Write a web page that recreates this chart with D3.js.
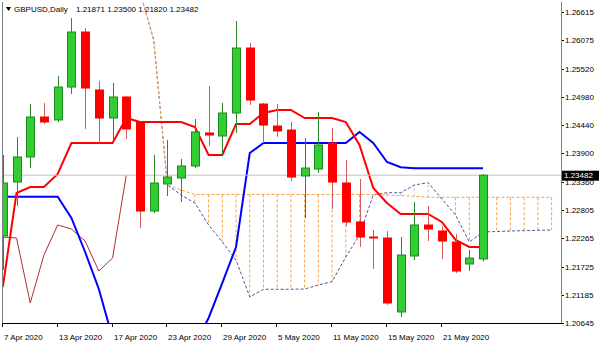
<!DOCTYPE html>
<html>
<head>
<meta charset="utf-8">
<script src="https://cdn.jsdelivr.net/npm/d3@7/dist/d3.min.js"></script>
<style>
  body { margin: 0; background: #fff; }
  svg { display: block; font-family: "Liberation Sans", Arial, sans-serif; }
</style>
</head>
<body>
<div id="chart"></div>
<script>
// GBPUSD daily, 7 Apr 2020 -> 26 May 2020 (36 bars)
const opens  = [1.22313, 1.23351, 1.23832, 1.24601, 1.24544, 1.25178, 1.26236, 1.25121, 1.24582, 1.24986,
                1.24505, 1.22793, 1.23313, 1.23428, 1.23659, 1.24294, 1.24236, 1.24678, 1.25928, 1.24851,
                1.24428, 1.24351, 1.23467, 1.23601, 1.24101, 1.23332, 1.22582, 1.22293, 1.22274, 1.20851,
                1.21928, 1.22524, 1.22409, 1.22197, 1.21774, 1.21871];
const highs  = [1.23870, 1.24217, 1.24851, 1.24871, 1.25390, 1.26505, 1.26313, 1.25294, 1.25255, 1.25005,
                1.24524, 1.23870, 1.24159, 1.23794, 1.24563, 1.25198, 1.24871, 1.26448, 1.26025, 1.24871,
                1.24851, 1.24505, 1.24197, 1.24698, 1.24390, 1.23774, 1.23409, 1.22428, 1.22409, 1.22293,
                1.22967, 1.22890, 1.22505, 1.22351, 1.22043, 1.23500];
const lows   = [1.21659, 1.22890, 1.23620, 1.24467, 1.24505, 1.25044, 1.24371, 1.24101, 1.24101, 1.24178,
                1.22466, 1.22755, 1.23082, 1.22967, 1.23620, 1.24044, 1.23870, 1.24294, 1.24832, 1.24101,
                1.24217, 1.23370, 1.22659, 1.23524, 1.22832, 1.22505, 1.22101, 1.21678, 1.20986, 1.20755,
                1.21851, 1.22216, 1.21870, 1.21601, 1.21639, 1.21820];
const closes = [1.23332, 1.23832, 1.24601, 1.24505, 1.25178, 1.26236, 1.25159, 1.24582, 1.24986, 1.24371,
                1.22793, 1.23332, 1.23447, 1.23659, 1.24313, 1.24255, 1.24678, 1.25928, 1.24928, 1.24447,
                1.24332, 1.23447, 1.23620, 1.24063, 1.23351, 1.22582, 1.22293, 1.22274, 1.21024, 1.21947,
                1.22524, 1.22447, 1.22216, 1.21639, 1.21889, 1.23482];

// Ichimoku lines
const tenkan = [1.21332, 1.23140, 1.23255, 1.23255, 1.23505, 1.24101, 1.24101, 1.24101, 1.24101, 1.24582,
                1.24505, 1.24505, 1.24505, 1.24505, 1.24409, 1.23870, 1.23870, 1.24467, 1.24467, 1.24678,
                1.24736, 1.24736, 1.24582, 1.24582, 1.24582, 1.24505, 1.24063, 1.23236, 1.22947, 1.22736,
                1.22736, 1.22736, 1.22582, 1.22236, 1.22101, 1.22101];
const kijun  = [1.23068, 1.23068, 1.23068, 1.23068, 1.23068, 1.22659, 1.22005, 1.21293, 1.20351, 1.20216,
                1.20216, 1.20216, 1.20216, 1.20216, 1.20216, 1.20736, 1.21409, 1.22101, 1.23909, 1.24101,
                1.24101, 1.24101, 1.24101, 1.24101, 1.24101, 1.24101, 1.24313, 1.24101, 1.23736, 1.23634,
                1.23615, 1.23615, 1.23615, 1.23615, 1.23615, 1.23615];
// senkou spans, shifted 26 bars forward (41 slots, null = above the visible range)
const spanA  = [null, null, null, null, null, null, null, null, null, 1.28006,
                1.27005, 1.26082, 1.23294, 1.23197, 1.23111, 1.23111, 1.23111, 1.23111, 1.23111, 1.23111,
                1.23111, 1.23111, 1.23111, 1.23111, 1.23111, 1.23111, 1.23111, 1.23111, 1.23101, 1.23092,
                1.23076, 1.23057, 1.23057, 1.23057, 1.23057, 1.23057, 1.23057, 1.23057, 1.23057, 1.23057,
                1.23057];
const spanB  = [null, null, null, null, null, null, null, null, null, 1.28006,
                1.27005, 1.26082, 1.23294, 1.23101, 1.22947, 1.22524, 1.22197, 1.21851, 1.21139, 1.21288,
                1.21288, 1.21288, 1.21293, 1.21370, 1.21434, 1.21909, 1.22332, 1.23101, 1.23145, 1.23145,
                1.23294, 1.23338, 1.23024, 1.22717, 1.22197, 1.22390, 1.22399, 1.22409, 1.22415, 1.22422,
                1.22428];
const chikouShift = 26;

const tickBars   = [0, 4, 8, 12, 16, 20, 24, 28, 32];
const tickLabels = ['7 Apr 2020', '13 Apr 2020', '17 Apr 2020', '23 Apr 2020', '29 Apr 2020',
                    '5 May 2020', '11 May 2020', '15 May 2020', '21 May 2020'];
const priceTicks = [1.26615, 1.26075, 1.25520, 1.24980, 1.24440, 1.23900, 1.23360,
                    1.22805, 1.22265, 1.21725, 1.21185, 1.20645];
const lastPrice = 1.23482;
const title = 'GBPUSD,Daily';
const titleValues = '1.21871 1.23500 1.21820 1.23482';

// layout
const width = 600;
const height = 343;
const plot = { left: 3, right: 561, top: 2, bottom: 323 };
const bodyW = 9;

const x = d3.scaleLinear().domain([0, 40]).range([2.8, 551.6]);
const y = d3.scaleLinear().domain([1.20645, 1.26615]).range([322.7, 12.3]);

const svg = d3.select('#chart').append('svg')
    .attr('width', width)
    .attr('height', height);

svg.append('defs').append('clipPath').attr('id', 'clip')
  .append('rect')
    .attr('x', plot.left).attr('y', plot.top)
    .attr('width', plot.right - plot.left).attr('height', plot.bottom - plot.top);

const g = svg.append('g').attr('clip-path', 'url(#clip)');

// kumo hatch : one dotted vertical per bar
const cloudBars = d3.range(spanA.length).filter(i => spanA[i] != null && spanB[i] != null);
g.selectAll('.kumo').data(cloudBars).enter().append('line')
    .attr('class', 'kumo')
    .attr('x1', i => x(i)).attr('x2', i => x(i))
    .attr('y1', i => y(spanA[i])).attr('y2', i => y(spanB[i]))
    .attr('stroke', i => spanA[i] >= spanB[i] ? '#f7a045' : '#d8bfd8')
    .attr('stroke-width', 1)
    .attr('stroke-dasharray', '3,2');

const lineOf = arr => d3.line()
    .defined(i => arr[i] != null)
    .x(i => x(i))
    .y(i => y(arr[i]));

g.append('path')
    .attr('d', lineOf(spanB)(d3.range(spanB.length)))
    .attr('fill', 'none').attr('stroke', '#5252a0').attr('stroke-width', 1)
    .attr('stroke-dasharray', '3,2');
g.append('path')
    .attr('d', lineOf(spanA)(d3.range(spanA.length)))
    .attr('fill', 'none').attr('stroke', '#f7a045').attr('stroke-width', 1)
    .attr('stroke-dasharray', '3,2');

// chikou span = closes shifted back
const chikou = closes.map((c, i) => ({ i: i - chikouShift, v: c })).filter(d => d.i >= 0);
g.append('path')
    .attr('d', d3.line().x(d => x(d.i)).y(d => y(d.v))(chikou))
    .attr('fill', 'none').attr('stroke', '#b03030').attr('stroke-width', 1);

g.append('path')
    .attr('d', lineOf(kijun)(d3.range(kijun.length)))
    .attr('fill', 'none').attr('stroke', '#0000ff').attr('stroke-width', 2);
g.append('path')
    .attr('d', lineOf(tenkan)(d3.range(tenkan.length)))
    .attr('fill', 'none').attr('stroke', '#ff0000').attr('stroke-width', 2);

// last price line
g.append('line')
    .attr('x1', plot.left).attr('x2', plot.right)
    .attr('y1', y(lastPrice)).attr('y2', y(lastPrice))
    .attr('stroke', '#c0c0c0').attr('stroke-width', 1);

// candles
const bars = closes.map((c, i) => ({ i, o: opens[i], h: highs[i], l: lows[i], c }));
const candle = g.selectAll('.candle').data(bars).enter().append('g').attr('class', 'candle');
candle.append('line')
    .attr('x1', d => Math.round(x(d.i)) + 0.5).attr('x2', d => Math.round(x(d.i)) + 0.5)
    .attr('y1', d => y(d.h)).attr('y2', d => y(d.l))
    .attr('stroke', d => d.c >= d.o ? '#2b8a2b' : '#d45a5a')
    .attr('stroke-width', 1);
candle.append('rect')
    .attr('x', d => Math.round(x(d.i)) - 4 + 0.5)
    .attr('y', d => y(Math.max(d.o, d.c)))
    .attr('width', bodyW - 1)
    .attr('height', d => Math.max(1, Math.abs(y(d.o) - y(d.c))))
    .attr('fill', d => d.c >= d.o ? '#32cd32' : '#ff0000')
    .attr('stroke', d => d.c >= d.o ? '#1e8a1e' : '#ff0000')
    .attr('stroke-width', 1);

// frame
svg.append('line').attr('x1', 2.5).attr('x2', 2.5).attr('y1', plot.top).attr('y2', plot.bottom)
    .attr('stroke', '#808080');
svg.append('line').attr('x1', plot.right + 0.5).attr('x2', plot.right + 0.5).attr('y1', plot.top).attr('y2', plot.bottom)
    .attr('stroke', '#808080').attr('stroke-width', 1);
svg.append('line').attr('x1', 2).attr('x2', plot.right + 1).attr('y1', plot.bottom + 0.5).attr('y2', plot.bottom + 0.5)
    .attr('stroke', '#000');

// price axis
const yAxis = svg.append('g').attr('font-size', 8);
yAxis.selectAll('.yt').data(priceTicks).enter().append('line')
    .attr('x1', plot.right + 1).attr('x2', plot.right + 3)
    .attr('y1', d => Math.round(y(d)) + 0.5).attr('y2', d => Math.round(y(d)) + 0.5)
    .attr('stroke', '#000');
yAxis.selectAll('.yl').data(priceTicks).enter().append('text')
    .attr('x', 565).attr('y', d => y(d) + 3)
    .attr('fill', '#000')
    .text(d => d.toFixed(5));

// last price tag
svg.append('rect')
    .attr('x', 562).attr('y', y(lastPrice) - 4.5)
    .attr('width', 37).attr('height', 10)
    .attr('fill', '#000');
svg.append('text')
    .attr('x', 564).attr('y', y(lastPrice) + 3)
    .attr('font-size', 8).attr('fill', '#fff')
    .text(lastPrice.toFixed(5));

// time axis
const xAxis = svg.append('g').attr('font-size', 8);
xAxis.selectAll('.xt').data(tickBars).enter().append('line')
    .attr('x1', d => Math.round(x(d)) - 0.5).attr('x2', d => Math.round(x(d)) - 0.5)
    .attr('y1', plot.bottom + 1).attr('y2', plot.bottom + 4)
    .attr('stroke', '#000');
xAxis.selectAll('.xl').data(tickBars).enter().append('text')
    .attr('x', d => Math.round(x(d)) + 1).attr('y', 340)
    .attr('fill', '#000')
    .text((d, k) => tickLabels[k]);

// title
svg.append('path').attr('d', 'M6,7 L11,7 L8.5,11 Z').attr('fill', '#000');
svg.append('text').attr('x', 14).attr('y', 12).attr('font-size', 8).text(title);
svg.append('text').attr('x', 76).attr('y', 12).attr('font-size', 8).text(titleValues);
</script>
</body>
</html>
